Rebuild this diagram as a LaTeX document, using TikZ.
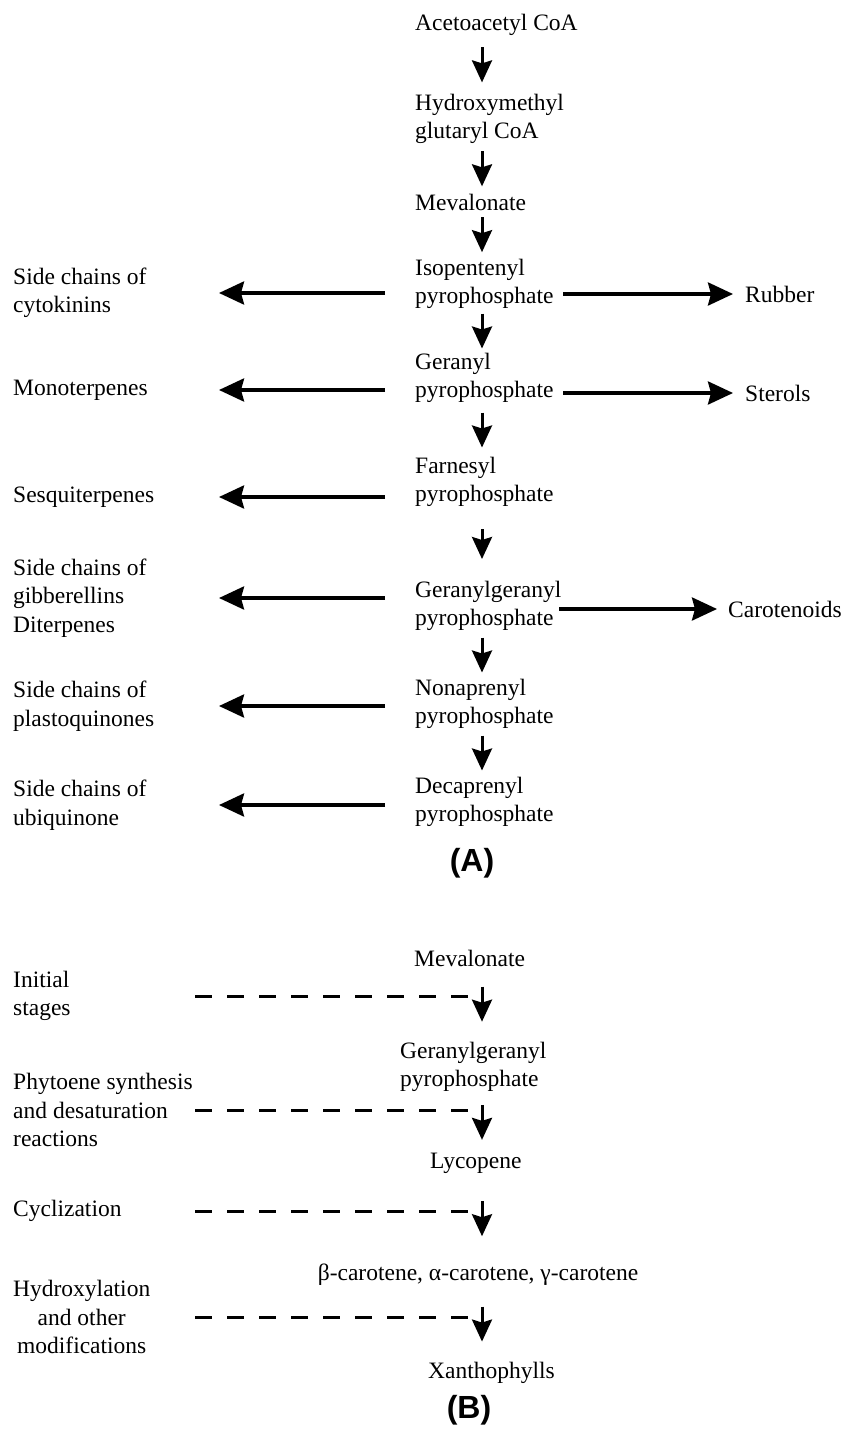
\documentclass[tikz,border=0pt]{standalone}
\usepackage{fontspec}
\setmainfont{Liberation Serif}
\newfontfamily\panelfont{Liberation Sans}
\usetikzlibrary{arrows.meta,calc}

\begin{document}
\begin{tikzpicture}[x=1pt, y=-1pt,
    chem/.style={anchor=west, inner sep=0pt, align=left, font=\fontsize{23.5}{28.5}\selectfont},
    panel/.style={inner sep=0pt, font=\panelfont\bfseries\fontsize{32}{36}\selectfont},
    down/.style={-{Stealth[length=22pt, width=20pt, inset=3pt]}, line width=3pt},
    branch/.style={-{Stealth[length=25pt, width=23pt, inset=3pt]}, line width=3.5pt},
    stage/.style={dash pattern=on 17pt off 15pt, line width=3pt}
]
\useasboundingbox (0,0) rectangle (859,1437);

% fixed x positions of the connectors
\coordinate (ax) at (482,0);
\coordinate (lfrom) at (385,0);
\coordinate (lto) at (219,0);
\coordinate (rfrom) at (563,0);
\coordinate (rto) at (733,0);
\coordinate (gfrom) at (559,0);
\coordinate (gto) at (717,0);
\coordinate (dfrom) at (195,0);
\coordinate (dto) at (468,0);

% (A) main pathway
\node[chem] (acetyl) at (415,25) {Acetoacetyl CoA};
\node[chem] (hmg) at (415,119) {Hydroxymethyl\\glutaryl CoA};
\node[chem] (mev) at (415,202) {Mevalonate};
\node[chem] (ipp) at (415,284) {Isopentenyl\\pyrophosphate};
\node[chem] (gpp) at (415,378) {Geranyl\\pyrophosphate};
\node[chem] (fpp) at (415,482) {Farnesyl\\pyrophosphate};
\node[chem] (ggpp) at (415,606) {Geranylgeranyl\\pyrophosphate};
\node[chem] (npp) at (415,704) {Nonaprenyl\\pyrophosphate};
\node[chem] (dpp) at (415,802) {Decaprenyl\\pyrophosphate};
\node[panel] (labA) at (472,863) {(A)};

% (A) products on the left
\node[chem] (cyto) at (13,293) {Side chains of\\cytokinins};
\node[chem] (mono) at (13,390) {Monoterpenes};
\node[chem] (sesqui) at (13,497) {Sesquiterpenes};
\node[chem] (gibb) at (13,598) {Side chains of\\gibberellins\\Diterpenes};
\node[chem] (plasto) at (13,706) {Side chains of\\plastoquinones};
\node[chem] (ubi) at (13,805) {Side chains of\\ubiquinone};

% (A) products on the right
\node[chem] (rubber) at (745,294) {Rubber};
\node[chem] (sterols) at (745,393) {Sterols};
\node[chem] (carot) at (728,609) {Carotenoids};

% (A) steps
\draw[down] ($(ax |- acetyl.south)!.5!(ax |- hmg.north)$) ++(0,-17.5) -- ++(0,35);
\draw[down] ($(ax |- hmg.south)!.5!(ax |- mev.north)$) ++(0,-17.5) -- ++(0,35);
\draw[down] ($(ax |- mev.south)!.5!(ax |- ipp.north)$) ++(0,-17.5) -- ++(0,35);
\draw[down] ($(ax |- ipp.south)!.5!(ax |- gpp.north)$) ++(0,-17.5) -- ++(0,35);
\draw[down] ($(ax |- gpp.south)!.5!(ax |- fpp.north)$) ++(0,-17.5) -- ++(0,35);
\draw[down] ($(ax |- fpp.south)!.5!(ax |- ggpp.north)$) ++(0,-15) -- ++(0,30);
\draw[down] ($(ax |- ggpp.south)!.5!(ax |- npp.north)$) ++(0,-17.5) -- ++(0,35);
\draw[down] ($(ax |- npp.south)!.5!(ax |- dpp.north)$) ++(0,-17.5) -- ++(0,35);

% (A) branches
\draw[branch] (lfrom |- cyto) -- (lto |- cyto);
\draw[branch] (lfrom |- mono) -- (lto |- mono);
\draw[branch] (lfrom |- sesqui) -- (lto |- sesqui);
\draw[branch] (lfrom |- gibb) -- (lto |- gibb);
\draw[branch] (lfrom |- plasto) -- (lto |- plasto);
\draw[branch] (lfrom |- ubi) -- (lto |- ubi);
\draw[branch] (rfrom |- rubber) -- (rto |- rubber);
\draw[branch] (rfrom |- sterols) -- (rto |- sterols);
\draw[branch] (gfrom |- carot) -- (gto |- carot);

% (B) carotenoid pathway
\node[chem] (mev2) at (414,958) {Mevalonate};
\node[chem] (ggpp2) at (400,1067) {Geranylgeranyl\\pyrophosphate};
\node[chem] (lyco) at (430,1163) {Lycopene};
\node[chem, anchor=center] (carotenes) at (478,1275) {β-carotene, α-carotene, γ-carotene};
\node[chem] (xantho) at (428,1373) {Xanthophylls};
\node[panel] (labB) at (469,1410) {(B)};

% (B) stages
\node[chem] (initial) at (13,996) {Initial\\stages};
\node[chem] (phyto) at (13,1110) {Phytoene synthesis\\and desaturation\\reactions};
\node[chem] (cycl) at (13,1211) {Cyclization};
\node[chem, align=center] (hydrox) at (13,1317) {Hydroxylation\\and other\\modifications};

\draw[down] ($(ax |- mev2.south)!.5!(ax |- ggpp2.north)$) ++(0,-17.5) -- ++(0,35);
\draw[down] ($(ax |- ggpp2.south)!.5!(ax |- lyco.north)$) ++(0,-17.5) -- ++(0,35);
\draw[down] ($(ax |- lyco.south)!.5!(ax |- carotenes.north)$) ++(0,-17.5) -- ++(0,35);
\draw[down] ($(ax |- carotenes.south)!.5!(ax |- xantho.north)$) ++(0,-17.5) -- ++(0,35);

\draw[stage] (dfrom |- initial) -- (dto |- initial);
\draw[stage] (dfrom |- phyto) -- (dto |- phyto);
\draw[stage] (dfrom |- cycl) -- (dto |- cycl);
\draw[stage] (dfrom |- hydrox) -- (dto |- hydrox);

\end{tikzpicture}
\end{document}
